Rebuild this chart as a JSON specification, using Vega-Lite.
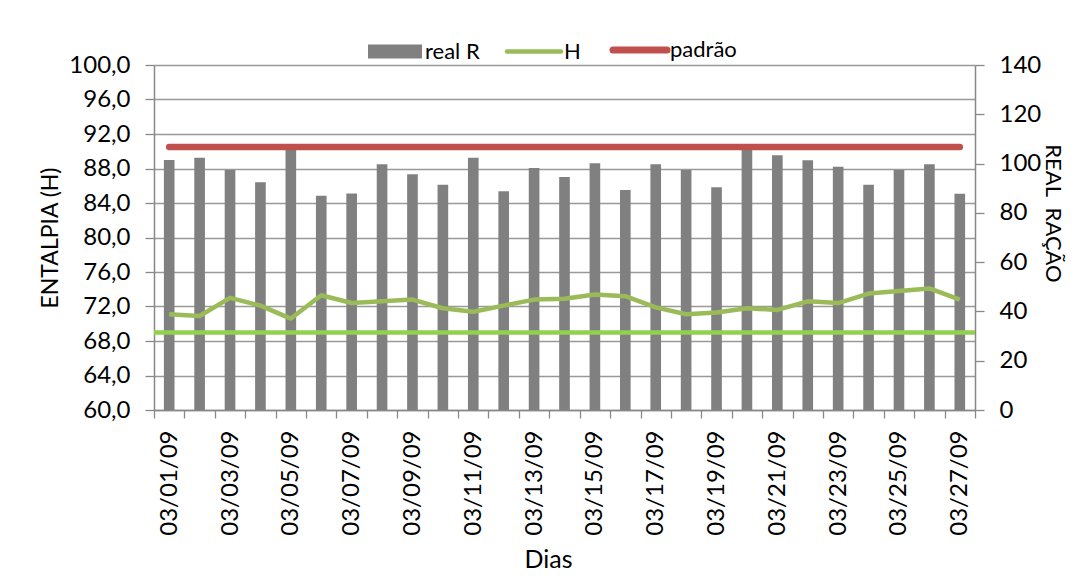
{
  "$schema": "https://vega.github.io/schema/vega-lite/v6.json",
  "width": 821,
  "height": 345,
  "autosize": {"type": "none"},
  "padding": {"left": 154, "top": 65, "right": 105, "bottom": 171},
  "background": "white",
  "config": {
    "view": {"stroke": null},
    "font": "Lato",
    "axis": {"labelFont": "Lato", "titleFont": "Lato", "labelColor": "#000", "titleColor": "#000", "titleFontWeight": "normal", "domainColor": "#888", "tickColor": "#888", "labelOverlap": false}
  },
  "data": {
    "values": [
      {"dia": "03/01/09", "R": 101.5, "H": 71.1, "padrao": 90.5},
      {"dia": "03/02/09", "R": 102.4, "H": 70.9, "padrao": 90.5},
      {"dia": "03/03/09", "R": 97.4, "H": 73.0, "padrao": 90.5},
      {"dia": "03/04/09", "R": 92.4, "H": 72.1, "padrao": 90.5},
      {"dia": "03/05/09", "R": 106.5, "H": 70.6, "padrao": 90.5},
      {"dia": "03/06/09", "R": 86.9, "H": 73.3, "padrao": 90.5},
      {"dia": "03/07/09", "R": 87.9, "H": 72.4, "padrao": 90.5},
      {"dia": "03/08/09", "R": 99.7, "H": 72.6, "padrao": 90.5},
      {"dia": "03/09/09", "R": 95.7, "H": 72.8, "padrao": 90.5},
      {"dia": "03/10/09", "R": 91.4, "H": 71.8, "padrao": 90.5},
      {"dia": "03/11/09", "R": 102.4, "H": 71.4, "padrao": 90.5},
      {"dia": "03/12/09", "R": 88.8, "H": 72.1, "padrao": 90.5},
      {"dia": "03/13/09", "R": 98.2, "H": 72.8, "padrao": 90.5},
      {"dia": "03/14/09", "R": 94.6, "H": 72.9, "padrao": 90.5},
      {"dia": "03/15/09", "R": 100.1, "H": 73.4, "padrao": 90.5},
      {"dia": "03/16/09", "R": 89.3, "H": 73.2, "padrao": 90.5},
      {"dia": "03/17/09", "R": 99.7, "H": 71.9, "padrao": 90.5},
      {"dia": "03/18/09", "R": 97.4, "H": 71.1, "padrao": 90.5},
      {"dia": "03/19/09", "R": 90.4, "H": 71.3, "padrao": 90.5},
      {"dia": "03/20/09", "R": 106.5, "H": 71.8, "padrao": 90.5},
      {"dia": "03/21/09", "R": 103.4, "H": 71.6, "padrao": 90.5},
      {"dia": "03/22/09", "R": 101.3, "H": 72.6, "padrao": 90.5},
      {"dia": "03/23/09", "R": 98.7, "H": 72.4, "padrao": 90.5},
      {"dia": "03/24/09", "R": 91.4, "H": 73.5, "padrao": 90.5},
      {"dia": "03/25/09", "R": 97.4, "H": 73.8, "padrao": 90.5},
      {"dia": "03/26/09", "R": 99.7, "H": 74.1, "padrao": 90.5},
      {"dia": "03/27/09", "R": 87.8, "H": 72.8, "padrao": 90.5}
    ]
  },
  "layer": [
    {
      "mark": {"type": "bar", "width": {"band": 0.35}},
      "encoding": {
        "x": {
          "field": "dia", "type": "nominal", "sort": null,
          "scale": {"paddingInner": 0, "paddingOuter": 0},
          "axis": {
            "orient": "bottom", "labelAngle": -90, "tickBand": "extent", "tickSize": 8, "tickWidth": 1.3,
            "domainWidth": 1.5, "labelFontSize": 24, "labelPadding": 12,
            "labelExpr": "parseInt(substring(datum.value, 3, 5)) % 2 == 1 ? datum.label : ''",
            "title": "Dias", "titleFontSize": 25, "titlePadding": 12, "titleX": 394, "grid": false
          }
        },
        "y": {
          "field": "R", "type": "quantitative", "scale": {"domain": [0, 140]},
          "axis": {
            "orient": "right", "values": [0, 20, 40, 60, 80, 100, 120, 140], "grid": false,
            "tickSize": 9, "tickWidth": 1.3, "domainWidth": 1.5, "labelFontSize": 24, "labelPadding": 15,
            "title": "REAL \u00a0RAÇÃO", "titleFontSize": 22, "titlePadding": 0, "titleY": 148
          }
        },
        "color": {
          "datum": "real R", "type": "nominal",
          "scale": {"domain": ["real R", "H", "padrão"], "range": ["#808080", "#9BBB59", "#C0504D"]},
          "legend": {
            "title": null, "orient": "none", "direction": "horizontal", "legendX": 230, "legendY": -26,
            "symbolSize": 2916, "labelOffset": 19, "columnPadding": 18, "labelFont": "Lato", "labelFontSize": 22, "labelColor": "#000",
            "encode": {
              "symbols": {
                "update": {
                  "shape": {"signal": "datum.value == 'real R' ? 'M-1,-0.26H1V0.26H-1Z' : 'stroke'"},
                  "fill": {"signal": "datum.value == 'real R' ? '#808080' : 'transparent'"},
                  "stroke": {"signal": "datum.value == 'real R' ? 'transparent' : (datum.value == 'H' ? '#9BBB59' : '#C0504D')"},
                  "strokeWidth": {"signal": "datum.value == 'H' ? 4.5 : (datum.value == 'real R' ? 0 : 7)"},
                  "strokeCap": {"value": "round"},
                  "opacity": {"value": 1}
                }
              }
            }
          }
        }
      }
    },
    {
      "layer": [
        {
          "mark": {"type": "line", "strokeWidth": 4.5, "strokeJoin": "round"},
          "encoding": {
            "x": {"field": "dia", "type": "nominal", "sort": null},
            "y": {
              "field": "H", "type": "quantitative", "scale": {"domain": [60, 100]}, "title": "ENTALPIA (H)",
              "axis": {
                "orient": "left", "values": [60, 64, 68, 72, 76, 80, 84, 88, 92, 96, 100],
                "labelExpr": "replace(format(datum.value, '.1f'), '.', ',')",
                "grid": true, "gridColor": "#999", "gridWidth": 1.3, "tickSize": 9, "tickWidth": 1.3, "domainWidth": 1.5,
                "labelFontSize": 24, "labelPadding": 15, "titleFontSize": 23, "titlePadding": 6
              }
            },
            "color": {"datum": "H", "type": "nominal"}
          }
        },
        {
          "mark": {"type": "line", "strokeWidth": 6.5, "strokeCap": "round"},
          "encoding": {
            "x": {"field": "dia", "type": "nominal", "sort": null},
            "y": {
              "field": "padrao", "type": "quantitative", "scale": {"domain": [60, 100]}, "title": "ENTALPIA (H)",
              "axis": {
                "orient": "left", "values": [60, 64, 68, 72, 76, 80, 84, 88, 92, 96, 100],
                "labelExpr": "replace(format(datum.value, '.1f'), '.', ',')",
                "grid": true, "gridColor": "#999", "gridWidth": 1.3, "tickSize": 9, "tickWidth": 1.3, "domainWidth": 1.5,
                "labelFontSize": 24, "labelPadding": 15, "titleFontSize": 23, "titlePadding": 6
              }
            },
            "color": {"datum": "padrão", "type": "nominal"}
          }
        },
        {
          "data": {"values": [{"ref": 69}]},
          "mark": {"type": "rule", "color": "#92D050", "strokeWidth": 4.5},
          "encoding": {
            "y": {
              "field": "ref", "type": "quantitative", "scale": {"domain": [60, 100]}, "title": "ENTALPIA (H)",
              "axis": {
                "orient": "left", "values": [60, 64, 68, 72, 76, 80, 84, 88, 92, 96, 100],
                "labelExpr": "replace(format(datum.value, '.1f'), '.', ',')",
                "grid": true, "gridColor": "#999", "gridWidth": 1.3, "tickSize": 9, "tickWidth": 1.3, "domainWidth": 1.5,
                "labelFontSize": 24, "labelPadding": 15, "titleFontSize": 23, "titlePadding": 6
              }
            }
          }
        }
      ]
    }
  ],
  "resolve": {"scale": {"y": "independent"}}
}
